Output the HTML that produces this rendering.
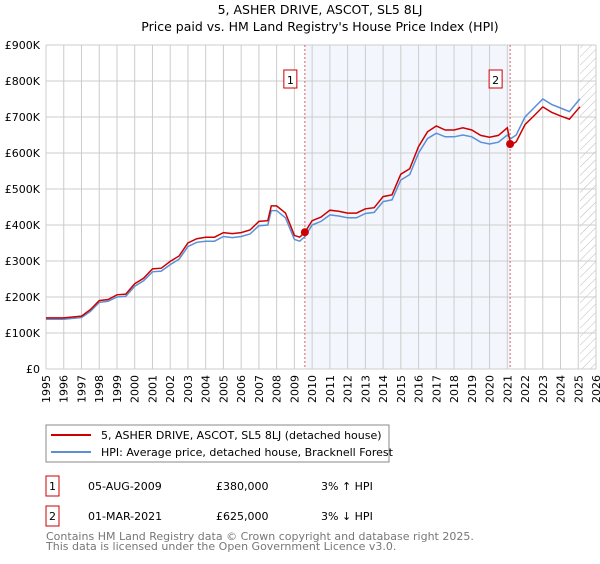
<!DOCTYPE html>
<html><head><meta charset="utf-8"><style>
body{margin:0;background:#fff;font-family:"DejaVu Sans","Liberation Sans",sans-serif;}
</style></head><body>
<svg width="600" height="560" xmlns="http://www.w3.org/2000/svg" id="svg" font-family="DejaVu Sans, Liberation Sans, sans-serif">
<text x="320" y="14" text-anchor="middle" font-size="12.5">5, ASHER DRIVE, ASCOT, SL5 8LJ</text>
<text x="320" y="31" text-anchor="middle" font-size="12.5">Price paid vs. HM Land Registry's House Price Index (HPI)</text>
<g id="plot"></g>
<g>
<rect x="46" y="425" width="343" height="37" fill="#fff" stroke="#888"/>
<line x1="51" y1="435" x2="91" y2="435" stroke="#cc0000" stroke-width="2"/>
<text x="101" y="439" font-size="11">5, ASHER DRIVE, ASCOT, SL5 8LJ (detached house)</text>
<line x1="51" y1="452" x2="91" y2="452" stroke="#5b8fd6" stroke-width="2"/>
<text x="101" y="456" font-size="11">HPI: Average price, detached house, Bracknell Forest</text>
</g>
<g font-size="11">
<rect x="46" y="476" width="13" height="20" fill="none" stroke="#cc0000"/><text x="52.5" y="490" text-anchor="middle">1</text>
<text x="88" y="490">05-AUG-2009</text><text x="216" y="490">£380,000</text><text x="321" y="490">3% ↑ HPI</text>
<rect x="46" y="506" width="13" height="20" fill="none" stroke="#cc0000"/><text x="52.5" y="520" text-anchor="middle">2</text>
<text x="88" y="520">01-MAR-2021</text><text x="216" y="520">£625,000</text><text x="321" y="520">3% ↓ HPI</text>
</g>
<text x="46" y="540" font-size="11" fill="#777">Contains HM Land Registry data © Crown copyright and database right 2025.</text>
<text x="46" y="550" font-size="11" fill="#777">This data is licensed under the Open Government Licence v3.0.</text>
</svg>
<script>
const years=[1995,1996,1997,1997.5,1998,1998.5,1999,1999.5,2000,2000.5,2001,2001.5,2002,2002.5,2003,2003.5,2004,2004.5,2005,2005.5,2006,2006.5,2007,2007.5,2007.7,2008,2008.5,2009,2009.3,2009.6,2010,2010.5,2011,2011.5,2012,2012.5,2013,2013.5,2014,2014.5,2015,2015.5,2016,2016.5,2017,2017.5,2018,2018.5,2019,2019.5,2020,2020.5,2021,2021.2,2021.5,2022,2022.5,2023,2023.5,2024,2024.5,2025,2025.1];
const hpi=[138,138,143,160,185,188,200,202,230,245,270,272,290,305,340,352,355,355,368,365,368,375,398,400,440,440,420,360,355,368,400,410,428,425,420,420,432,435,465,470,525,540,600,640,655,645,645,650,645,630,625,630,650,640,650,700,725,750,735,725,715,745,750];
const price=[142,142,147,165,190,193,206,208,237,252,278,280,299,314,350,362,366,366,379,376,379,386,410,412,453,453,433,371,366,380,412,422,441,438,433,433,445,448,479,484,541,556,618,659,675,664,664,670,664,649,644,649,670,622,631,679,703,728,713,703,694,723,728];
const sales=[{t:2009.59,v:380},{t:2021.16,v:625}];
const yTicks=[0,100,200,300,400,500,600,700,800,900];
const L=46,R=596,T=45,B=369;
const x=t=>L+(t-1995)/31*(R-L), y=v=>B-v/900*(B-T);
const g=document.getElementById('plot');
const NS='http://www.w3.org/2000/svg';
function mk(tag,a){const e=document.createElementNS(NS,tag);for(const k in a)e.setAttribute(k,a[k]);g.appendChild(e);return e;}
let e=mk('rect',{x:x(sales[0].t),y:T,width:x(sales[1].t)-x(sales[0].t),height:B-T,fill:'#eef3fc',opacity:0.7});


const defs=mk('defs',{});
defs.innerHTML='<pattern id="hatch" width="6" height="6" patternUnits="userSpaceOnUse" patternTransform="rotate(45)"><line x1="0" y1="0" x2="0" y2="6" stroke="#bbb" stroke-width="1"/></pattern>';
e=mk('rect',{x:x(2025.1),y:T,width:R-x(2025.1),height:B-T,fill:'url(#hatch)'});


for(let yr=1995;yr<=2026;yr++){
 e=mk('line',{x1:x(yr),x2:x(yr),y1:T,y2:B,stroke:'#ccc'});
 
 
 e=mk('text',{x:0,y:0,'font-size':11,'text-anchor':'end',transform:`translate(${x(yr)+4},${B+6}) rotate(-90)`});
 e.textContent=yr;
 
 
}
yTicks.forEach(v=>{
 e=mk('line',{x1:L,x2:R,y1:y(v),y2:y(v),stroke:'#ccc'});
 
 
 e=mk('text',{x:L-6,y:y(v)+4,'font-size':11,'text-anchor':'end'});
 e.textContent=v===0?'£0':'£'+v+'K';
 
 
});
sales.forEach((s,i)=>{
 e=mk('line',{x1:x(s.t),x2:x(s.t),y1:T,y2:B,stroke:'#e06060','stroke-dasharray':'2,2'});
 
 
 e=mk('rect',{x:x(s.t)-21,y:y(800)-11,width:13,height:18,fill:'#fff',stroke:'#cc0000'});
 
 
 e=mk('text',{x:x(s.t)-14.5,y:y(800)+3,'font-size':11,'text-anchor':'middle'});
 e.textContent=i+1;
 
 
});
const pts=a=>years.map((t,i)=>x(t).toFixed(1)+','+y(a[i]).toFixed(1)).join(' ');
e=mk('polyline',{points:pts(hpi),fill:'none',stroke:'#5b8fd6','stroke-width':1.5});


e=mk('polyline',{points:pts(price),fill:'none',stroke:'#cc0000','stroke-width':1.5});


sales.forEach(s=>{
 e=mk('circle',{cx:x(s.t),cy:y(s.v),r:4,fill:'#cc0000'});
 
 
});
</script>
</body></html>
